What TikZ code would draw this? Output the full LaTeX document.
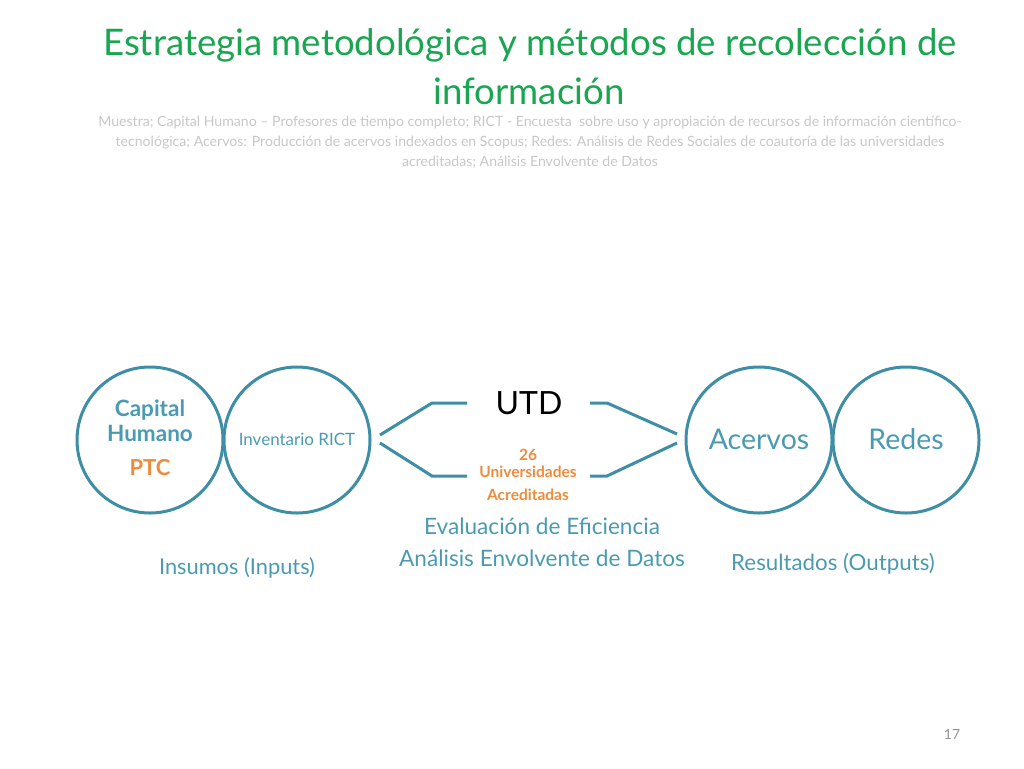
\documentclass[tikz,border=0pt]{standalone}
\usepackage{fontspec}
\setmainfont{Lato}
\definecolor{teal1}{RGB}{62,142,166}
\definecolor{tealtext}{RGB}{74,155,178}
\definecolor{green1}{RGB}{24,166,80}
\definecolor{orange1}{RGB}{236,140,60}
\definecolor{gray1}{RGB}{200,200,200}
\definecolor{gray2}{RGB}{150,150,150}
\begin{document}
\begin{tikzpicture}[x=1pt,y=-1pt,
  circ/.style={circle,draw=teal1,line width=3pt,minimum size=146pt,inner sep=0pt},
  conn/.style={draw=teal1,line width=3pt},
  lbl/.style={text=tealtext,inner sep=0pt,align=center},
  olbl/.style={text=orange1,inner sep=0pt,align=center,font=\bfseries\fontsize{15.5}{18}\selectfont},
  ttl/.style={text=green1,inner sep=0pt,font=\fontsize{36.6}{42}\selectfont},
  sub/.style={text=gray1,inner sep=0pt,font=\fontsize{14.1}{16}\selectfont}]
\useasboundingbox (0,0) rectangle (1024,768);
\fill[white] (0,0) rectangle (1024,768);
% title
\node[ttl] (t1) at (530,45) {Estrategia metodológica y métodos de recolección de};
\node[ttl] (t2) at (529,91) {información};
\node[sub] (s1) at (530,123) {Muestra; Capital Humano -- Profesores de tiempo completo; RICT - Encuesta\ \ sobre uso y apropiación de recursos de información científico-};
\node[sub] (s2) at (530,143) {tecnológica; Acervos: Producción de acervos indexados en Scopus; Redes: Análisis de Redes Sociales de coautoría de las universidades};
\node[sub] (s3) at (530,162) {acreditadas; Análisis Envolvente de Datos};
% circles
\node[circ] (ch) at (150,440) {};
\node[circ] (ri) at (297,440) {};
\node[circ] (ac) at (759,440) {};
\node[circ] (re) at (906,440) {};
\node[lbl,font=\bfseries\fontsize{22.5}{25}\selectfont] (chl) at (150,421) {Capital\\Humano};
\node[olbl,font=\bfseries\fontsize{22}{24}\selectfont] (ptc) at (150,468) {PTC};
\node[lbl,font=\fontsize{17}{20}\selectfont] (ril) at (297,439) {Inventario RICT};
\node[lbl,font=\fontsize{28.5}{32}\selectfont] (acl) at (759,439) {Acervos};
\node[lbl,font=\fontsize{28.5}{32}\selectfont] (rel) at (906,439) {Redes};
% center
\node[inner sep=0pt,font=\fontsize{32}{36}\selectfont] (utd) at (529,403) {UTD};
\node[olbl] (n26) at (528,455) {26};
\node[olbl] (univ) at (528,472) {Universidades};
\node[olbl] (acr) at (528,495) {Acreditadas};
% connectors
\coordinate (a1) at (380,435); \coordinate (a2) at (432,403); \coordinate (a3) at (467,403);
\coordinate (b1) at (380,443); \coordinate (b2) at (432,476); \coordinate (b3) at (467,476);
\coordinate (c1) at (590,403); \coordinate (c2) at (607,403); \coordinate (c3) at (677,434);
\coordinate (d1) at (590,476); \coordinate (d2) at (607,476); \coordinate (d3) at (677,443);
\draw[conn] (a1) -- (a2) -- (a3);
\draw[conn] (b1) -- (b2) -- (b3);
\draw[conn] (c1) -- (c2) -- (c3);
\draw[conn] (d1) -- (d2) -- (d3);
% bottom labels
\node[lbl,font=\fontsize{22.6}{26}\selectfont] (ev) at (542,526) {Evaluación de Eficiencia};
\node[lbl,font=\fontsize{22.6}{26}\selectfont] (aed) at (542,558) {Análisis Envolvente de Datos};
\node[lbl,font=\fontsize{21.8}{26}\selectfont] (ins) at (237,568) {Insumos (Inputs)};
\node[lbl,font=\fontsize{22.3}{26}\selectfont] (res) at (833,564) {Resultados (Outputs)};
\node[text=gray2,inner sep=0pt,font=\fontsize{14}{16}\selectfont] (pg) at (952,734) {17};
\end{tikzpicture}
\end{document}
